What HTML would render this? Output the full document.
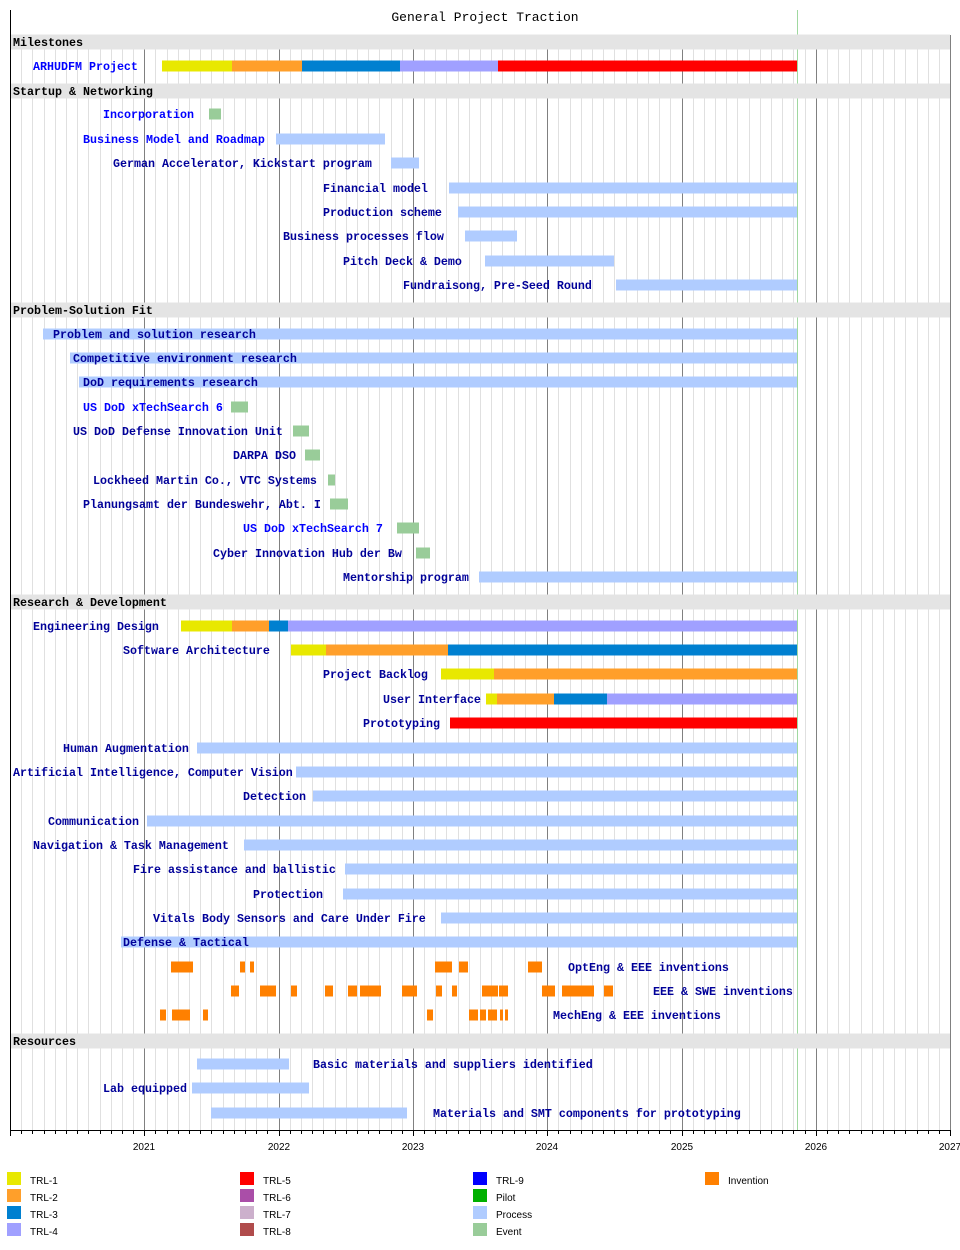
<!DOCTYPE html>
<html><head><meta charset="utf-8"><style>
body{margin:0;background:#fff}
svg{display:block}
.l{font-family:"Liberation Mono",monospace;font-weight:bold;font-size:11.67px;fill:#000099}
.b{fill:#0000ff}
.h{font-family:"Liberation Mono",monospace;font-weight:bold;font-size:11.67px;fill:#000}
.t{font-family:"Liberation Mono",monospace;font-size:13px;fill:#000}
.a{font-family:"Liberation Sans",sans-serif;font-size:10px;fill:#000}
</style></head><body>
<svg id="s" width="960" height="1250" xmlns="http://www.w3.org/2000/svg"></svg>
<script>
const s=document.getElementById('s');let o='';
const C={y:'#e8e800',o:'#ff9f2a',b:'#0080d0',v:'#a0a0ff',r:'#ff0000',p:'#b0ccff',g:'#99cc99',i:'#ff8000'};
const X0=10,YR=134.3;
for(let m=1;m<84;m++){let x=Math.round(X0+m*YR/12)+.5;if(m%12)o+=`<line x1="${x}" y1="35" x2="${x}" y2="1130" stroke="#e0e0e0"/>`;}
for(let y=1;y<=7;y++){let x=Math.round(X0+y*YR)+.5;o+=`<line x1="${x}" y1="35" x2="${x}" y2="1130" stroke="#808080"/>`;}
o+=`<line x1="797.5" y1="10" x2="797.5" y2="1130" stroke="#a0d8a0"/>`;
[[42,'Milestones'],[91,'Startup & Networking'],[310,'Problem-Solution Fit'],[602,'Research & Development'],[1041,'Resources']].forEach(([y,t])=>{o+=`<rect x="11" y="${y-7.5}" width="939" height="15" fill="#e4e4e4"/><text class="h" x="13" y="${y+4}">${t.replace('&','&amp;')}</text>`;});
function bar(y,segs){segs.forEach(([a,b,c])=>{o+=`<rect x="${a}" y="${y-5.5}" width="${b-a}" height="11" fill="${C[c]}"/>`;});}
function lab(y,x,t,cls){o+=`<text class="l ${cls||''}" x="${x}" y="${y+4}">${t.replace(/&/g,'&amp;')}</text>`;}
const R=[
[66,33,'ARHUDFM Project','b',[[162,232,'y'],[232,302,'o'],[302,400,'b'],[400,498,'v'],[498,797,'r']]],
[114,103,'Incorporation','b',[[209,221,'g']]],
[139,83,'Business Model and Roadmap','b',[[276,385,'p']]],
[163,113,'German Accelerator, Kickstart program','',[[391,419,'p']]],
[188,323,'Financial model','',[[449,797,'p']]],
[212,323,'Production scheme','',[[458,797,'p']]],
[236,283,'Business processes flow','',[[465,517,'p']]],
[261,343,'Pitch Deck & Demo','',[[485,614,'p']]],
[285,403,'Fundraisong, Pre-Seed Round','',[[616,797,'p']]],
[334,53,'Problem and solution research','',[[43,797,'p']]],
[358,73,'Competitive environment research','',[[70,797,'p']]],
[382,83,'DoD requirements research','',[[79,797,'p']]],
[407,83,'US DoD xTechSearch 6','b',[[231,248,'g']]],
[431,73,'US DoD Defense Innovation Unit','',[[293,309,'g']]],
[455,233,'DARPA DSO','',[[305,320,'g']]],
[480,93,'Lockheed Martin Co., VTC Systems','',[[328,335,'g']]],
[504,83,'Planungsamt der Bundeswehr, Abt. I','',[[330,348,'g']]],
[528,243,'US DoD xTechSearch 7','b',[[397,419,'g']]],
[553,213,'Cyber Innovation Hub der Bw','',[[416,430,'g']]],
[577,343,'Mentorship program','',[[479,797,'p']]],
[626,33,'Engineering Design','',[[181,232,'y'],[232,269,'o'],[269,288,'b'],[288,797,'v']]],
[650,123,'Software Architecture','',[[291,326,'y'],[326,448,'o'],[448,797,'b']]],
[674,323,'Project Backlog','',[[441,494,'y'],[494,797,'o']]],
[699,383,'User Interface','',[[486,497,'y'],[497,554,'o'],[554,607,'b'],[607,797,'v']]],
[723,363,'Prototyping','',[[450,797,'r']]],
[748,63,'Human Augmentation','',[[197,797,'p']]],
[772,13,'Artificial Intelligence, Computer Vision','',[[296,797,'p']]],
[796,243,'Detection','',[[313,797,'p']]],
[821,48,'Communication','',[[147,797,'p']]],
[845,33,'Navigation & Task Management','',[[244,797,'p']]],
[869,133,'Fire assistance and ballistic','',[[345,797,'p']]],
[894,253,'Protection','',[[343,797,'p']]],
[918,153,'Vitals Body Sensors and Care Under Fire','',[[441,797,'p']]],
[942,123,'Defense & Tactical','',[[121,797,'p']]],
[967,568,'OptEng & EEE inventions','',[[171,193],[240,245],[250,254],[435,452],[459,468],[528,542]].map(a=>[a[0],a[1],'i'])],
[991,653,'EEE & SWE inventions','',[[231,239],[260,276],[291,297],[325,333],[348,357],[360,381],[402,417],[436,442],[452,457],[482,498],[499,508],[542,555],[562,594],[604,613]].map(a=>[a[0],a[1],'i'])],
[1015,553,'MechEng & EEE inventions','',[[160,166],[172,190],[203,208],[427,433],[469,478],[480,486],[488,497],[500,503],[505,508]].map(a=>[a[0],a[1],'i'])],
[1064,313,'Basic materials and suppliers identified','',[[197,289,'p']]],
[1088,103,'Lab equipped','',[[192,309,'p']]],
[1113,433,'Materials and SMT components for prototyping','',[[211,407,'p']]]
];
R.forEach(r=>{bar(r[0],r[4]);lab(r[0],r[1],r[2],r[3]);});
o+=`<line x1="10.5" y1="10" x2="10.5" y2="1131" stroke="#000"/><line x1="10" y1="1130.5" x2="951" y2="1130.5" stroke="#000"/>`;
for(let m=0;m<=84;m++){let x=Math.round(X0+m*YR/12)+.5;o+=`<line x1="${x}" y1="1130" x2="${x}" y2="${m%12?1134:1136}" stroke="#000"/>`;}
for(let y=1;y<=7;y++){let x=Math.round(X0+y*YR);o+=`<text class="a" x="${x}" y="1150" text-anchor="middle">${2020+y}</text>`;}
o+=`<text class="t" x="485" y="21" text-anchor="middle">General Project Traction</text>`;
const L=[[7,['TRL-1','#e8e800'],['TRL-2','#ff9f2a'],['TRL-3','#0080d0'],['TRL-4','#a0a0ff']],[240,['TRL-5','#ff0000'],['TRL-6','#aa4ea8'],['TRL-7','#ccb0cc'],['TRL-8','#b04c4c']],[473,['TRL-9','#0000ff'],['Pilot','#00b000'],['Process','#b0ccff'],['Event','#99cc99']],[705,['Invention','#ff8000']]];
L.forEach(c=>{let x=c[0];c.slice(1).forEach((e,i)=>{let y=1172+i*17;o+=`<rect x="${x}" y="${y}" width="14" height="13" fill="${e[1]}"/><text class="a" x="${x+23}" y="${y+12}">${e[0]}</text>`;});});
s.innerHTML=o;
</script>
</body></html>
